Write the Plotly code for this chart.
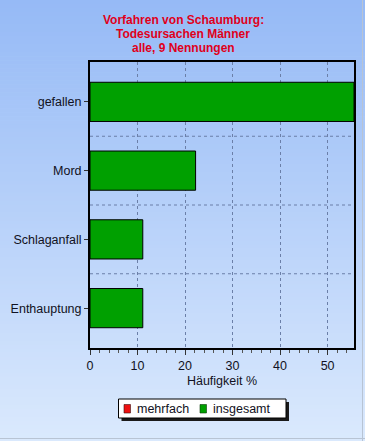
import plotly.graph_objects as go

categories = ["gefallen", "Mord", "Schlaganfall", "Enthauptung"]
insgesamt = [55.56, 22.22, 11.11, 11.11]
mehrfach = [0, 0, 0, 0]
series_names = ["mehrfach", "insgesamt"]
series_colors = ["#ee1111", "#00a000"]
title_lines = ["Vorfahren von Schaumburg:", "Todesursachen Männer", "alle, 9 Nennungen"]
x_title = "Häufigkeit %"

W, H = 365, 441
ML, MR, MT, MB = 90, 11, 62, 93
PW, PH = W - ML - MR, H - MT - MB

def px(x):
    return (x - ML) / PW

def py(y):
    return (H - MB - y) / PH

top_rgb = (150, 186, 246)
bot_rgb = (218, 233, 253)

shapes = []
n = 110
for i in range(n):
    t = i / (n - 1)
    c = tuple(round(top_rgb[k] + (bot_rgb[k] - top_rgb[k]) * t) for k in range(3))
    y0 = i * H / n
    y1 = (i + 1) * H / n + 0.6
    shapes.append(dict(
        type="rect", xref="paper", yref="paper", layer="below",
        x0=px(0), x1=px(W), y0=py(y1), y1=py(y0),
        fillcolor="rgb(%d,%d,%d)" % c, line=dict(width=0)))

# horizontal dashed grid lines at category boundaries
for i in range(len(categories) - 1):
    shapes.append(dict(type="line", xref="paper", yref="y", layer="below",
                       x0=0, x1=1, y0=i + 0.5, y1=i + 0.5,
                       line=dict(color="#6b7fa8", width=1, dash="3px,3px")))

# outer light border at right/bottom
shapes.append(dict(type="line", xref="paper", yref="paper", layer="above",
                   x0=px(W - 2.5), x1=px(W - 2.5), y0=py(H), y1=py(0),
                   line=dict(color="#b8c4d4", width=1)))
shapes.append(dict(type="line", xref="paper", yref="paper", layer="above",
                   x0=px(0), x1=px(W), y0=py(H - 2.5), y1=py(H - 2.5),
                   line=dict(color="#b8c4d4", width=1)))

# legend box with shadow
lx0, lx1, ly0, ly1 = 118.5, 286, 399, 418
shapes.append(dict(type="rect", xref="paper", yref="paper", layer="above",
                   x0=px(lx0 + 3), x1=px(lx1 + 3), y0=py(ly1 + 3), y1=py(ly0 + 3),
                   fillcolor="#1a1a1a", line=dict(width=0)))
shapes.append(dict(type="rect", xref="paper", yref="paper", layer="above",
                   x0=px(lx0), x1=px(lx1), y0=py(ly1), y1=py(ly0),
                   fillcolor="#ffffff", line=dict(color="#000000", width=1)))

annotations = []
for i, line in enumerate(title_lines):
    annotations.append(dict(
        text="<b>%s</b>" % line, xref="paper", yref="paper",
        x=px(183), y=py(20 + 14 * i), xanchor="center", yanchor="middle",
        showarrow=False,
        font=dict(family="Liberation Sans, Arial, sans-serif", size=12, color="#e0001b")))

leg_x = [124, 200]
for name, col, sx in zip(series_names, series_colors, leg_x):
    shapes.append(dict(type="rect", xref="paper", yref="paper", layer="above",
                       x0=px(sx), x1=px(sx + 6.5), y0=py(413), y1=py(404.5),
                       fillcolor=col, line=dict(color="#3a1010" if col == "#ee1111" else "#0a3a0a", width=0.6)))
    annotations.append(dict(
        text=name, xref="paper", yref="paper",
        x=px(sx + 11), y=py(408.5), xanchor="left", yanchor="middle",
        showarrow=False,
        font=dict(family="Liberation Sans, Arial, sans-serif", size=12.5, color="#111122")))

fig = go.Figure()
fig.add_trace(go.Bar(
    y=categories, x=mehrfach, orientation="h", name=series_names[0],
    marker=dict(color=series_colors[0], line=dict(width=0)),
    showlegend=False))
fig.add_trace(go.Bar(
    y=categories, x=insgesamt, orientation="h", name=series_names[1],
    marker=dict(color=series_colors[1], line=dict(color="#000000", width=1)),
    showlegend=False))

fig.update_layout(
    width=W, height=H,
    margin=dict(l=ML, r=MR, t=MT, b=MB, autoexpand=False),
    paper_bgcolor="rgb(184,210,250)",
    plot_bgcolor="rgba(0,0,0,0)",
    shapes=shapes,
    annotations=annotations,
    barmode="overlay",
    bargap=0.43,
    showlegend=False,
    font=dict(family="Liberation Sans, Arial, sans-serif", size=12.5, color="#111122"),
    xaxis=dict(range=[0, 55.56], dtick=10, tick0=0,
               showline=True, linecolor="#000000", linewidth=2, mirror=True,
               showgrid=True, gridcolor="#6b7fa8", griddash="3px,3px", gridwidth=1,
               zeroline=False,
               ticks="outside", ticklen=5, tickcolor="#333333",
               minor=dict(dtick=2, ticks="outside", ticklen=3, tickcolor="#555555", showgrid=False),
               title=dict(text=x_title, standoff=4, font=dict(size=12.5)),
               tickfont=dict(size=12.5)),
    yaxis=dict(categoryorder="array", categoryarray=categories,
               range=[3.58, -0.58],
               showline=True, linecolor="#000000", linewidth=2, mirror=True,
               showgrid=False, zeroline=False,
               ticks="outside", ticklen=4, tickcolor="#333333",
               tickfont=dict(size=12.5)),
)

fig.write_html("out.html", config={"displayModeBar": False},
               post_script="document.body.style.margin='0';window.dispatchEvent(new Event('resize'));")
